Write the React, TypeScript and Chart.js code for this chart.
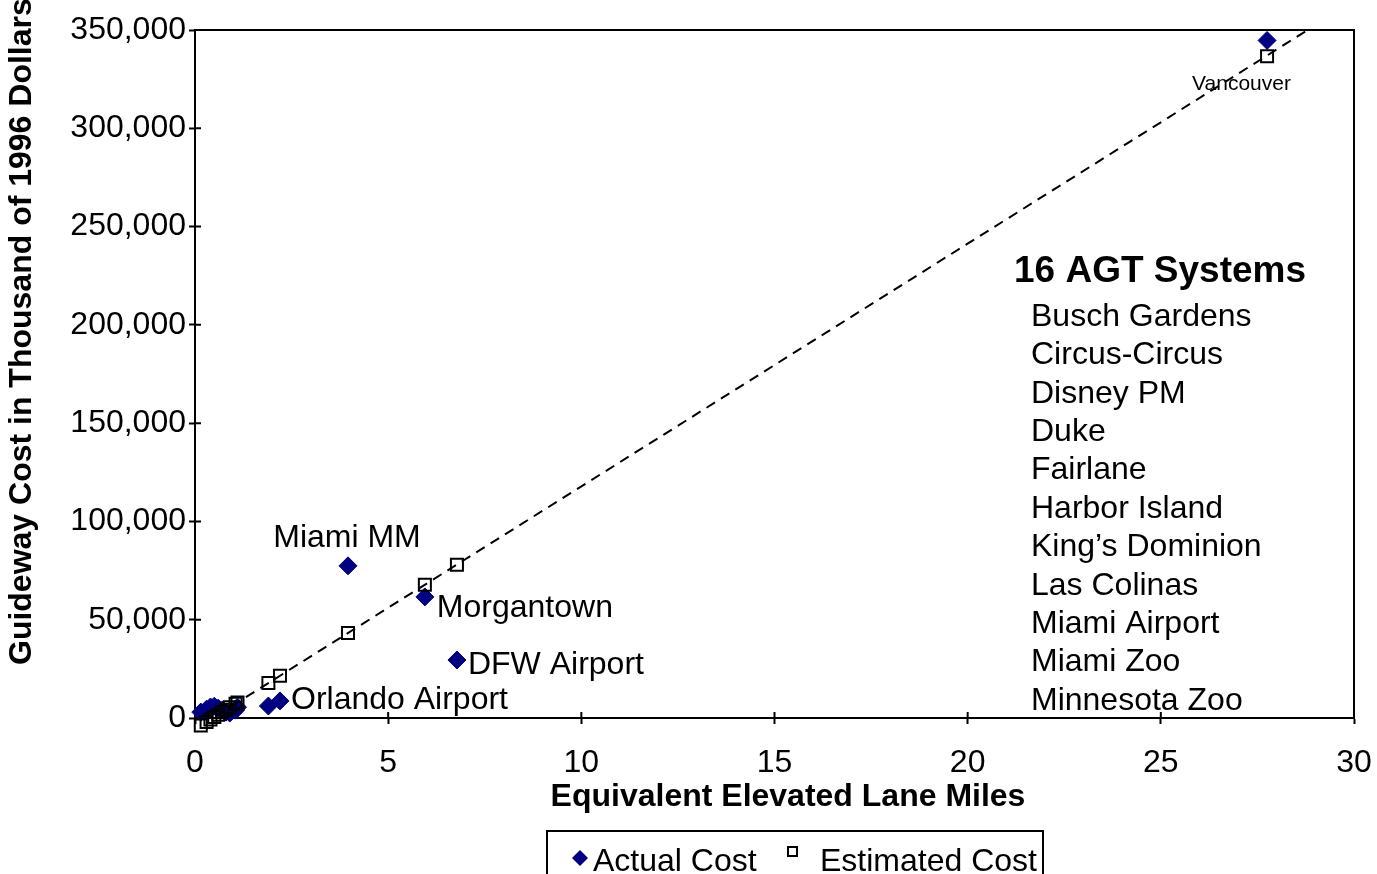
import React, { useEffect, useRef } from 'react';
import { Chart, registerables } from 'chart.js';

Chart.register(...registerables);

// ---- data ----
const laneMiles = [27.75, 3.96, 5.95, 6.78, 2.2, 1.9, 0.15, 0.3, 0.4, 0.5, 0.6, 0.7, 0.8, 0.9, 1.05, 1.1];
const actualCost = [344700, 77400, 61600, 29500, 8700, 6100, 3000, 4500, 5600, 6000, 5000, 4000, 3000, 2500, 4000, 5500];
const estimatedCost = [336600, 43200, 67800, 78000, 21500, 17800, -3800, -2000, -800, 500, 1700, 3000, 4200, 5400, 7300, 7900];
// names of the labelled points (first five entries of the arrays above)
const labeledSystems = ['Vancouver', 'Miami MM', 'Morgantown', 'DFW Airport', 'Orlando Airport'];
const agtListTitle = '16 AGT Systems';
const agtSystemsList = [
  'Busch Gardens', 'Circus-Circus', 'Disney PM', 'Duke', 'Fairlane', 'Harbor Island',
  'King\u2019s Dominion', 'Las Colinas', 'Miami Airport', 'Miami Zoo', 'Minnesota Zoo',
];
const trendMiles = [0.2, 30];
const trendCost = [-3200, 364800];
const xTickValues = [0, 5, 10, 15, 20, 25, 30];
const yTickValues = [0, 50000, 100000, 150000, 200000, 250000, 300000, 350000];
const seriesNames = ['Actual Cost', 'Estimated Cost'];
const xTitle = 'Equivalent Elevated Lane Miles';
const yTitle = 'Guideway Cost in Thousand of 1996 Dollars';

// ---- styles ----
const FONT = "'Liberation Sans', Arial, sans-serif";
const NAVY = '#000080';
const labelStyle: Record<string, { dx: number; dy: number; size: number; align: CanvasTextAlign; idx: number }> = {
  Vancouver: { dx: -75, dy: 44, size: 21, align: 'left', idx: 0 },
  'Miami MM': { dx: -1, dy: -28, size: 32, align: 'center', idx: 1 },
  Morgantown: { dx: 12, dy: 11, size: 32, align: 'left', idx: 2 },
  'DFW Airport': { dx: 11, dy: 5, size: 32, align: 'left', idx: 3 },
  'Orlando Airport': { dx: 11, dy: -1, size: 32, align: 'left', idx: 4 },
};

const fmt = (v: number) => String(v).replace(/\B(?=(\d{3})+(?!\d))/g, ',');

const decorPlugin = {
  id: 'decor',
  beforeDatasetsDraw(chart: any) {
    const { ctx, chartArea: a, scales } = chart;
    ctx.save();
    ctx.strokeStyle = '#000';
    ctx.lineWidth = 2;
    ctx.strokeRect(a.left, a.top, a.right - a.left, a.bottom - a.top);
    // inner halves of crossing tick marks
    ctx.beginPath();
    xTickValues.forEach((v) => {
      const px = scales.x.getPixelForValue(v);
      ctx.moveTo(px, a.bottom);
      ctx.lineTo(px, a.bottom - 6);
    });
    yTickValues.forEach((v) => {
      const py = scales.y.getPixelForValue(v);
      ctx.moveTo(a.left, py);
      ctx.lineTo(a.left + 6, py);
    });
    ctx.stroke();
    ctx.restore();
  },
  afterDraw(chart: any) {
    const { ctx, scales } = chart;
    ctx.save();
    ctx.fillStyle = '#000';
    // point labels
    labeledSystems.forEach((name) => {
      const s = labelStyle[name];
      const px = scales.x.getPixelForValue(laneMiles[s.idx]);
      const py = scales.y.getPixelForValue(actualCost[s.idx]);
      ctx.font = `${s.size}px ${FONT}`;
      ctx.textAlign = s.align;
      ctx.textBaseline = 'middle';
      ctx.fillText(name, px + s.dx, py + s.dy);
    });
    // list of systems
    ctx.textAlign = 'left';
    ctx.textBaseline = 'middle';
    ctx.font = `bold 37px ${FONT}`;
    ctx.fillText(agtListTitle, 1014, 272);
    ctx.font = `32px ${FONT}`;
    agtSystemsList.forEach((n, i) => ctx.fillText(n, 1031, 317 + i * 38.4));
    // x-axis title
    ctx.font = `bold 32px ${FONT}`;
    ctx.textAlign = 'center';
    ctx.textBaseline = 'middle';
    ctx.fillText(xTitle, 788, 797);
    // y-axis title
    ctx.save();
    ctx.translate(31, 665);
    ctx.rotate(-Math.PI / 2);
    ctx.font = `bold 32px ${FONT}`;
    ctx.textAlign = 'left';
    ctx.textBaseline = 'alphabetic';
    ctx.fillText(yTitle, 0, 0);
    ctx.restore();
    // legend box
    ctx.lineWidth = 2;
    ctx.strokeStyle = '#000';
    ctx.strokeRect(547, 831, 496, 60);
    ctx.fillStyle = NAVY;
    ctx.beginPath();
    ctx.moveTo(580, 850);
    ctx.lineTo(588, 858);
    ctx.lineTo(580, 866);
    ctx.lineTo(572, 858);
    ctx.closePath();
    ctx.fill();
    ctx.strokeRect(788, 847, 9, 9);
    ctx.fillStyle = '#000';
    ctx.font = `32px ${FONT}`;
    ctx.textAlign = 'left';
    ctx.textBaseline = 'alphabetic';
    ctx.fillText(seriesNames[0], 593, 871);
    ctx.fillText(seriesNames[1], 820, 871);
    ctx.restore();
  },
};

export default function App() {
  const ref = useRef<HTMLCanvasElement>(null);
  useEffect(() => {
    const canvas = ref.current!;
    const chart = new Chart(canvas, {
      type: 'scatter',
      data: {
        datasets: [
          {
            type: 'line',
            label: 'Trend',
            data: trendMiles.map((x, i) => ({ x, y: trendCost[i] })),
            borderColor: '#000',
            borderWidth: 2,
            borderDash: [10, 7],
            pointRadius: 0,
            fill: false,
            order: 0,
          } as any,
          {
            label: seriesNames[1],
            data: laneMiles.map((x, i) => ({ x, y: estimatedCost[i] })),
            pointStyle: 'rect',
            pointRadius: 8.5,
            backgroundColor: 'rgba(255,255,255,0)',
            borderColor: '#000',
            borderWidth: 2,
            clip: false,
            order: 1,
          } as any,
          {
            label: seriesNames[0],
            data: laneMiles.map((x, i) => ({ x, y: actualCost[i] })),
            pointStyle: 'rectRot',
            pointRadius: 9,
            backgroundColor: NAVY,
            borderColor: NAVY,
            borderWidth: 1,
            clip: false,
            order: 2,
          } as any,
        ],
      },
      options: {
        responsive: false,
        animation: false,
        devicePixelRatio: 1,
        events: [],
        layout: { padding: { left: 0, right: 23, top: 30, bottom: 56 } },
        plugins: { legend: { display: false }, tooltip: { enabled: false } },
        font: { family: FONT },
        scales: {
          x: {
            type: 'linear',
            position: 'bottom',
            min: 0,
            max: 30,
            afterBuildTicks: (s: any) => { s.ticks = xTickValues.map((v) => ({ value: v })); },
            afterFit: (s: any) => { s.height = 100; s.paddingLeft = 0; s.paddingRight = 0; },
            grid: { drawOnChartArea: false, drawTicks: true, tickLength: 6, tickColor: '#000', tickWidth: 2 },
            border: { display: true, color: '#000', width: 2 },
            ticks: { color: '#000', font: { family: FONT, size: 32 }, padding: 20, maxRotation: 0, autoSkip: false },
            title: { display: false, text: xTitle },
          },
          y: {
            type: 'linear',
            min: 0,
            max: 350000,
            afterBuildTicks: (s: any) => { s.ticks = yTickValues.map((v) => ({ value: v })); },
            afterFit: (s: any) => { s.width = 195; s.paddingTop = 0; s.paddingBottom = 0; },
            grid: { drawOnChartArea: false, drawTicks: true, tickLength: 6, tickColor: '#000', tickWidth: 2 },
            border: { display: true, color: '#000', width: 2 },
            ticks: { color: '#000', font: { family: FONT, size: 32 }, padding: 3, autoSkip: false, callback: (v: any) => fmt(Number(v)) },
          },
        },
      } as any,
      plugins: [decorPlugin],
    });
    return () => chart.destroy();
  }, []);
  return (
    <div style={{ position: 'absolute', left: 0, top: 0, width: 1377, height: 874, background: '#fff' }}>
      <canvas ref={ref} width={1377} height={874} style={{ display: 'block' }} />
    </div>
  );
}
